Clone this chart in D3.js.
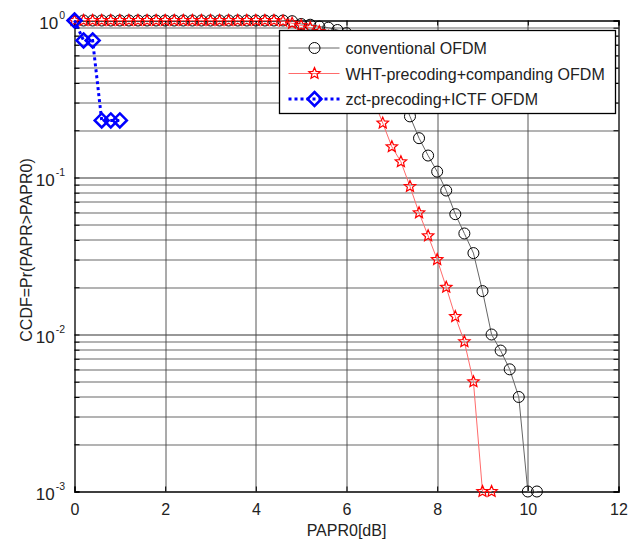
<!DOCTYPE html>
<html>
<head>
<meta charset="utf-8">
<script src="https://cdn.jsdelivr.net/npm/d3@7"></script>
<style>
    body { margin: 0; background: #fff; }
    text { font-family: "Liberation Sans", Arial, sans-serif; fill: #222; }
</style>
</head>
<body>
<div id="vis"></div>
<script>

// conventional OFDM
let convX = [0, 0.2, 0.4, 0.6, 0.8, 1, 1.2, 1.4, 1.6, 1.8, 2, 2.2, 2.4, 2.6, 2.8, 3, 3.2, 3.4, 3.6, 3.8, 4, 4.2, 4.4, 4.6, 4.8,
    5, 5.2, 5.4, 5.6, 5.8, 6, 6.2, 6.4, 6.6, 6.8, 7, 7.2, 7.4, 7.6, 7.8, 8, 8.2, 8.4, 8.6, 8.8, 9, 9.2, 9.4, 9.6, 9.8, 10, 10.2];
let convY = [1, 1, 1, 1, 1, 1, 1, 1, 1, 1, 1, 1, 1, 1, 1, 1, 1, 1, 1, 1, 1, 1, 1, 1, 0.99,
    0.95, 0.94, 0.915, 0.9, 0.87, 0.83, 0.78, 0.72, 0.64, 0.55, 0.45, 0.34, 0.245, 0.178, 0.138, 0.109, 0.0826, 0.0584, 0.044, 0.033, 0.0189,
    0.01, 0.0079, 0.006, 0.004, 0.001, 0.001];

// WHT-precoding+companding OFDM
let whtX = [0, 0.2, 0.4, 0.6, 0.8, 1, 1.2, 1.4, 1.6, 1.8, 2, 2.2, 2.4, 2.6, 2.8, 3, 3.2, 3.4, 3.6, 3.8, 4, 4.2, 4.4, 4.6, 4.8,
    5, 5.2, 5.4, 5.6, 5.8, 6, 6.2, 6.4, 6.6, 6.8, 7, 7.2, 7.4, 7.6, 7.8, 8, 8.2, 8.4, 8.6, 8.8, 9, 9.2];
let whtY = [1, 1, 1, 1, 1, 1, 1, 1, 1, 1, 1, 1, 1, 1, 1, 1, 1, 1, 1, 1, 1, 1, 1, 0.99, 0.96,
    0.93, 0.9, 0.85, 0.79, 0.71, 0.62, 0.52, 0.41, 0.31, 0.222, 0.157, 0.126, 0.0877, 0.0596, 0.0425, 0.030, 0.020, 0.013, 0.009, 0.005, 0.001, 0.001];

// zct-precoding+ICTF OFDM
let zctX = [0, 0.2, 0.4, 0.6, 0.8, 1];
let zctY = [1, 0.746, 0.746, 0.231, 0.231, 0.231];

let xTicks = [0, 2, 4, 6, 8, 10, 12];
let yDecades = [0, -1, -2, -3];
let legendLabels = ['conventional OFDM', 'WHT-precoding+companding OFDM', 'zct-precoding+ICTF OFDM'];

let margin = {top: 20.5, right: 11.5, bottom: 51.5, left: 74.5};
let width = 630 - margin.left - margin.right,
    height = 543 - margin.top - margin.bottom;

let svg = d3.select('#vis')
    .append('svg')
    .attr('width', 630)
    .attr('height', 543);

let g = svg.append('g')
    .attr('transform', 'translate(' + margin.left + ',' + margin.top + ')');

// Scaling
let xScale = d3.scaleLinear()
    .domain([0, 12])
    .range([0, width]);

let yScale = d3.scaleLog()
    .domain([0.001, 1])
    .range([height, 0]);

// minor values for log grid
let minorVals = [];
yDecades.slice(1).forEach(function(e) {
    for (let k = 2; k <= 9; k++) minorVals.push(k * Math.pow(10, e));
});

// Grid
g.selectAll('line.minor')
    .data(minorVals)
    .enter()
    .append('line')
    .attr('class', 'minor')
    .attr('x1', 0).attr('x2', width)
    .attr('y1', d => Math.round(yScale(d)) + 0.5)
    .attr('y2', d => Math.round(yScale(d)) + 0.5)
    .attr('stroke', '#9a9a9a')
    .attr('stroke-width', 1.3);

g.selectAll('line.major')
    .data(yDecades.slice(1, 3))
    .enter()
    .append('line')
    .attr('class', 'major')
    .attr('x1', 0).attr('x2', width)
    .attr('y1', d => Math.round(yScale(Math.pow(10, d))) + 0.5)
    .attr('y2', d => Math.round(yScale(Math.pow(10, d))) + 0.5)
    .attr('stroke', '#333')
    .attr('stroke-width', 1.2);

g.selectAll('line.vgrid')
    .data(xTicks.slice(1, -1))
    .enter()
    .append('line')
    .attr('class', 'vgrid')
    .attr('x1', d => Math.round(xScale(d)) + 0.5)
    .attr('x2', d => Math.round(xScale(d)) + 0.5)
    .attr('y1', 0).attr('y2', height)
    .attr('stroke', '#444')
    .attr('stroke-width', 0.9);

// Axes (ticks inward)
let xAxisBottom = d3.axisBottom(xScale).tickValues(xTicks).tickSize(-5).tickPadding(12).tickFormat(d3.format('d'));
let xAxisTop = d3.axisTop(xScale).tickValues(xTicks).tickSize(-5).tickFormat('');
let yTickVals = yDecades.map(e => Math.pow(10, e)).concat(minorVals);
let yAxisLeft = d3.axisLeft(yScale).tickValues(yTickVals).tickSize(-5).tickFormat('');
let yAxisRight = d3.axisRight(yScale).tickValues(yTickVals).tickSize(-5).tickFormat('');

let gx = g.append('g').attr('transform', 'translate(0,' + height + ')').call(xAxisBottom);
g.append('g').call(xAxisTop);
g.append('g').call(yAxisLeft);
g.append('g').attr('transform', 'translate(' + width + ',0)').call(yAxisRight);

g.selectAll('.domain').attr('stroke', '#000').attr('stroke-width', 1.3);
g.selectAll('.tick line').attr('stroke', '#000');
gx.selectAll('text')
    .style('font-family', '"Liberation Sans", Arial, sans-serif')
    .style('font-size', '16px')
    .attr('fill', '#222');

// y tick labels 10^e
let yLab = g.selectAll('text.ylab')
    .data(yDecades)
    .enter()
    .append('text')
    .attr('class', 'ylab')
    .attr('x', -9.5)
    .attr('y', d => yScale(Math.pow(10, d)) + 8)
    .attr('text-anchor', 'end')
    .style('font-size', '17px');
yLab.append('tspan').text('10');
yLab.append('tspan')
    .attr('dx', 1)
    .attr('dy', -10)
    .style('font-size', '10.5px')
    .text(d => d);

// axis labels
svg.append('text')
    .attr('x', margin.left + width / 2)
    .attr('y', 536)
    .attr('text-anchor', 'middle')
    .style('font-size', '16px')
    .text('PAPR0[dB]');

svg.append('text')
    .attr('transform', 'translate(32,' + 250 + ') rotate(-90)')
    .attr('text-anchor', 'middle')
    .style('font-size', '16px')
    .text('CCDF=Pr(PAPR>PAPR0)');

// markers
function starPath(r) {
    let pts = [];
    for (let i = 0; i < 10; i++) {
        let rr = i % 2 === 0 ? r : r * 0.45;
        let a = -Math.PI / 2 + i * Math.PI / 5;
        pts.push([rr * Math.cos(a), rr * Math.sin(a)]);
    }
    return 'M' + pts.map(p => p[0].toFixed(2) + ',' + p[1].toFixed(2)).join('L') + 'Z';
}
function diamondPath(r) {
    return 'M0,' + (-r) + 'L' + r + ',0L0,' + r + 'L' + (-r) + ',0Z';
}

let line = d3.line()
    .x(d => xScale(d[0]))
    .y(d => yScale(d[1]));

let plot = g.append('g');

let series = [
    {x: convX, y: convY, color: '#000', lineColor: '#666', lw: 1, dash: null, marker: 'circle'},
    {x: whtX, y: whtY, color: '#ff0000', lineColor: '#ff6b6b', lw: 1, dash: null, marker: 'star'},
    {x: zctX, y: zctY, color: '#0000ff', lineColor: '#0000ff', lw: 3, dash: '3,3', marker: 'diamond'}
];

series.forEach(function(s) {
    let pts = s.x.map((v, i) => [v, s.y[i]]);
    plot.append('path')
        .datum(pts)
        .attr('d', line)
        .attr('fill', 'none')
        .attr('stroke', s.lineColor)
        .attr('stroke-width', s.lw)
        .attr('stroke-dasharray', s.dash);
    drawMarkers(plot, pts.map(p => [xScale(p[0]), yScale(p[1])]), s);
});

function drawMarkers(sel, pts, s) {
    if (s.marker === 'circle') {
        sel.selectAll(null)
            .data(pts)
            .enter()
            .append('circle')
            .attr('cx', d => d[0])
            .attr('cy', d => d[1])
            .attr('r', 5.5)
            .attr('fill', 'none')
            .attr('stroke', s.color)
            .attr('stroke-width', 1);
    } else {
        sel.selectAll(null)
            .data(pts)
            .enter()
            .append('path')
            .attr('transform', d => 'translate(' + d[0] + ',' + d[1] + ')')
            .attr('d', s.marker === 'star' ? starPath(6) : diamondPath(7))
            .attr('fill', 'none')
            .attr('stroke', s.color)
            .attr('stroke-width', s.marker === 'star' ? 1.2 : 2.5);
    }
}

// Legend
let legend = svg.append('g')
    .attr('transform', 'translate(279.5,30.5)');

legend.append('rect')
    .attr('width', 336)
    .attr('height', 83)
    .attr('fill', '#fff')
    .attr('stroke', '#000')
    .attr('stroke-width', 1.3);

let rows = legend.selectAll('g.row')
    .data(series)
    .enter()
    .append('g')
    .attr('class', 'row')
    .attr('transform', (d, i) => 'translate(0,' + (17.5 + i * 25.5) + ')');

rows.append('line')
    .attr('x1', 9).attr('x2', 60)
    .attr('stroke', d => d.lineColor)
    .attr('stroke-width', d => d.lw)
    .attr('stroke-dasharray', d => d.dash);

rows.each(function(d) {
    drawMarkers(d3.select(this), [[35, 0]], d);
});

rows.append('text')
    .attr('x', 66)
    .attr('y', 6)
    .style('font-size', '16px')
    .text((d, i) => legendLabels[i]);

</script>
</body>
</html>
